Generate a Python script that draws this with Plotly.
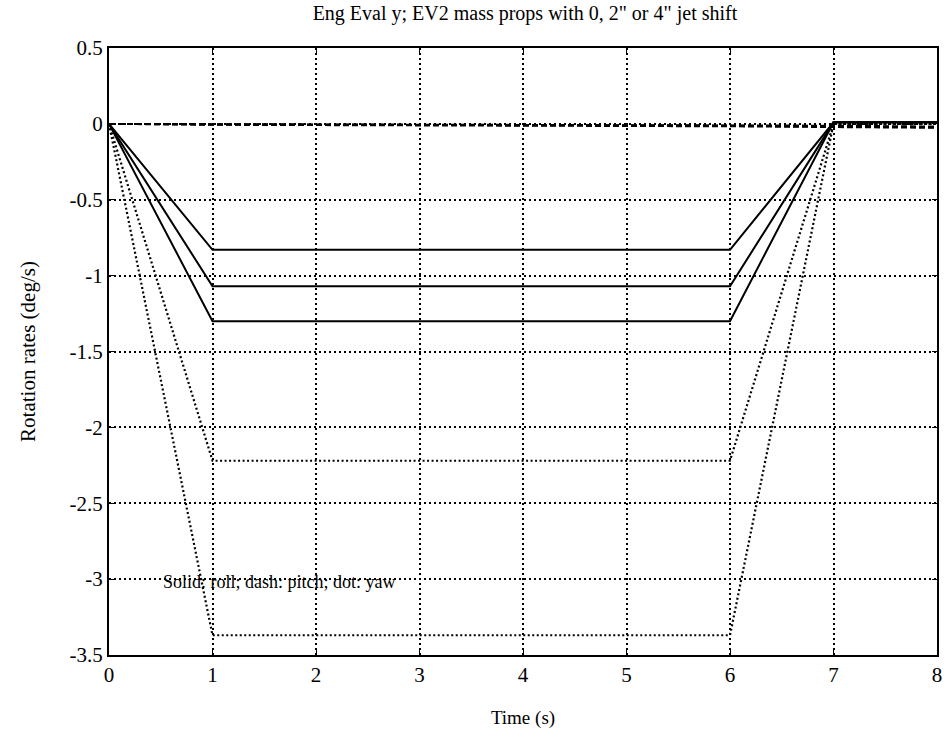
import plotly.graph_objects as go

# Time breakpoints
t = [0, 1, 6, 7, 8]

# Roll (solid) for 0, 2", 4" jet shift
roll_a = [0, -0.83, -0.83, 0.01, 0.01]
roll_b = [0, -1.07, -1.07, 0.01, 0.01]
roll_c = [0, -1.30, -1.30, 0.01, 0.01]

# Pitch (dash)
pitch_a = [0, -0.002, -0.008, -0.012, -0.018]
pitch_b = [0, -0.004, -0.012, -0.016, -0.022]
pitch_c = [0, -0.006, -0.016, -0.020, -0.026]

# Yaw (dot)
yaw_a = [0, -2.22, -2.22, 0, 0]
yaw_b = [0, -3.37, -3.37, 0, 0]

x_ticks = [0, 1, 2, 3, 4, 5, 6, 7, 8]
y_ticks = [0.5, 0, -0.5, -1, -1.5, -2, -2.5, -3, -3.5]
y_tick_text = ["0.5", "0", "-0.5", "-1", "-1.5", "-2", "-2.5", "-3", "-3.5"]

serif = "Liberation Serif, Times New Roman, serif"

fig = go.Figure()
for ys in [yaw_a, yaw_b]:
    fig.add_trace(go.Scatter(x=t, y=ys, mode="lines",
                             line=dict(color="black", width=2.2, dash="2px,2.5px"),
                             showlegend=False))
for ys in [pitch_a, pitch_b, pitch_c]:
    fig.add_trace(go.Scatter(x=t, y=ys, mode="lines",
                             line=dict(color="black", width=2, dash="6px,3px"),
                             showlegend=False))
for ys in [roll_a, roll_b, roll_c]:
    fig.add_trace(go.Scatter(x=t, y=ys, mode="lines",
                             line=dict(color="black", width=2),
                             showlegend=False))

fig.add_annotation(x=0.5, y=-3.02, xref="x", yref="y", xanchor="left", yanchor="middle",
                   text="Solid: roll; dash: pitch; dot: yaw", showarrow=False,
                   font=dict(family=serif, size=18, color="black"))

fig.update_layout(
    width=951, height=741,
    margin=dict(l=109, r=9, t=48, b=86),
    paper_bgcolor="white", plot_bgcolor="white",
    title=dict(text='Eng Eval y; EV2 mass props with 0, 2" or 4" jet shift',
               x=0.552, xanchor="center", y=0.992, yanchor="top",
               font=dict(family=serif, size=20, color="black")),
    font=dict(family=serif, size=19, color="black"),
)
fig.update_xaxes(range=[0, 8], tickvals=x_ticks, ticktext=[str(v) for v in x_ticks],
                 showgrid=True, gridcolor="black", gridwidth=1.5, griddash="2px,3px",
                 showline=True, linecolor="black", linewidth=2, mirror="ticks",
                 ticks="inside", ticklen=5, tickcolor="black", zeroline=False,
                 title=dict(text="Time (s)", standoff=24, font=dict(family=serif, size=19)),
                 tickfont=dict(family=serif, size=21))
fig.update_yaxes(range=[-3.5, 0.5], tickvals=y_ticks, ticktext=y_tick_text,
                 showgrid=True, gridcolor="black", gridwidth=1.5, griddash="2px,3px",
                 showline=True, linecolor="black", linewidth=2, mirror="ticks",
                 ticks="inside", ticklen=5, tickcolor="black", zeroline=False,
                 title=dict(text="Rotation rates (deg/s)", standoff=28, font=dict(family=serif, size=21)),
                 tickfont=dict(family=serif, size=21))

fig.write_html("out.html")
